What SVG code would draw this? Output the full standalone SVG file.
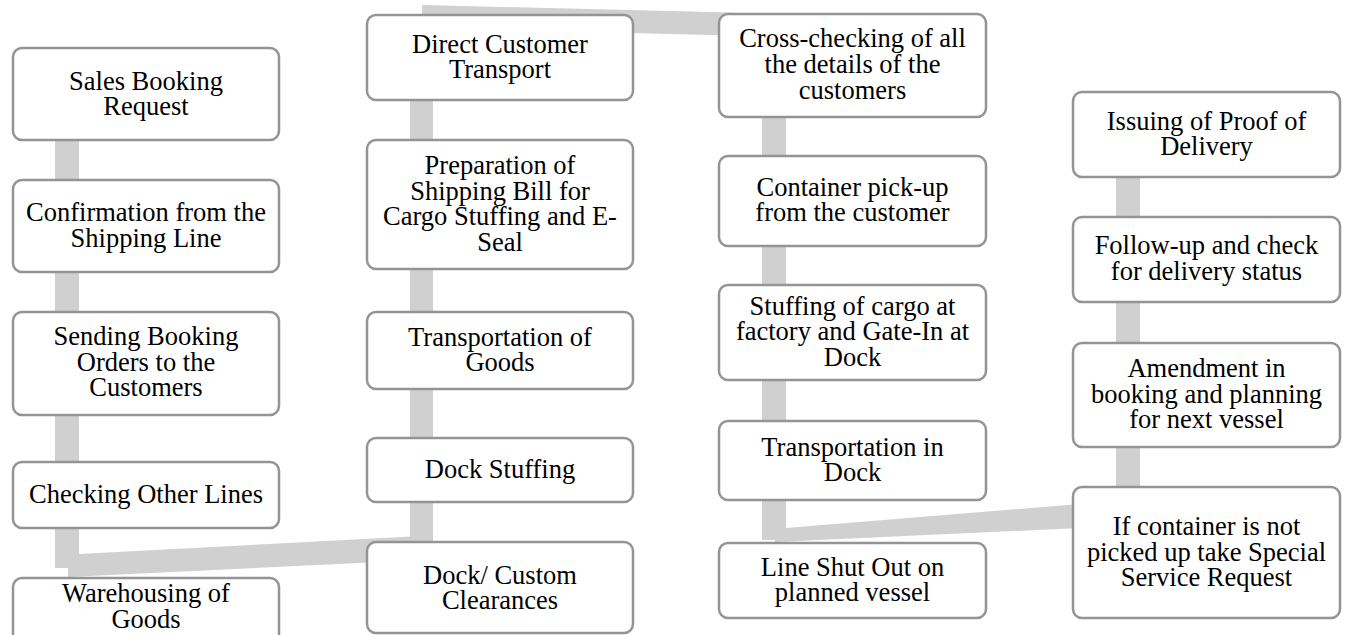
<svg xmlns="http://www.w3.org/2000/svg" width="1347" height="635" viewBox="0 0 1347 635">
<style>
.box{fill:#ffffff;stroke:#949494;stroke-width:2.5}
.conn{fill:#d0d0d0;stroke:none}
text{font-family:"Liberation Serif","Times New Roman",serif;font-size:26.5px;fill:#000000;text-anchor:middle}
</style>
<rect x="0" y="0" width="1347" height="635" fill="#ffffff"/>
<g id="connectors">
<rect class="conn" x="55" y="138" width="24" height="44"/>
<rect class="conn" x="55" y="270" width="24" height="44"/>
<rect class="conn" x="55" y="413" width="24" height="51"/>
<polygon class="conn" points="55,526 79,526 79,554 422,536 422,560 68,577 68,568 55,568"/>
<rect class="conn" x="410" y="98" width="23" height="44"/>
<rect class="conn" x="410" y="267" width="23" height="47"/>
<rect class="conn" x="410" y="387" width="23" height="53"/>
<rect class="conn" x="410" y="500" width="23" height="44"/>
<polygon class="conn" points="422,5 730,12.5 730,35.5 422,28"/>
<rect class="conn" x="762" y="115" width="24" height="43"/>
<rect class="conn" x="762" y="244" width="24" height="43"/>
<rect class="conn" x="762" y="378" width="24" height="45"/>
<polygon class="conn" points="762,498 786,498 786,528 1080,504 1080,528 775,542 775,540 762,540"/>
<rect class="conn" x="1116" y="175" width="24" height="44"/>
<rect class="conn" x="1116" y="300" width="24" height="45"/>
<rect class="conn" x="1116" y="445" width="24" height="44"/>
</g>
<g id="n1"><rect class="box" x="13" y="48" width="266" height="92" rx="9"/><text x="146" y="89.5">Sales Booking</text><text x="146" y="115">Request</text></g>
<g id="n2"><rect class="box" x="13" y="180" width="266" height="92" rx="9"/><text x="146" y="221">Confirmation from the</text><text x="146" y="246.5">Shipping Line</text></g>
<g id="n3"><rect class="box" x="13" y="312" width="266" height="103" rx="9"/><text x="146" y="345">Sending Booking</text><text x="146" y="370.5">Orders to the</text><text x="146" y="396">Customers</text></g>
<g id="n4"><rect class="box" x="13" y="462" width="266" height="66" rx="9"/><text x="146" y="503">Checking Other Lines</text></g>
<g id="n5"><rect class="box" x="13" y="578" width="266" height="70" rx="9"/><text x="146" y="602">Warehousing of</text><text x="146" y="627.5">Goods</text></g>
<g id="n6"><rect class="box" x="367" y="15" width="266" height="85" rx="9"/><text x="500" y="52.5">Direct Customer</text><text x="500" y="78">Transport</text></g>
<g id="n7"><rect class="box" x="367" y="140" width="266" height="129" rx="9"/><text x="500" y="174">Preparation of</text><text x="500" y="199.5">Shipping Bill for</text><text x="500" y="225">Cargo Stuffing and E-</text><text x="500" y="250.5">Seal</text></g>
<g id="n8"><rect class="box" x="367" y="312" width="266" height="77" rx="9"/><text x="500" y="345.5">Transportation of</text><text x="500" y="371">Goods</text></g>
<g id="n9"><rect class="box" x="367" y="438" width="266" height="64" rx="9"/><text x="500" y="477.5">Dock Stuffing</text></g>
<g id="n10"><rect class="box" x="367" y="542" width="266" height="91" rx="9"/><text x="500" y="583.5">Dock/ Custom</text><text x="500" y="609">Clearances</text></g>
<g id="n11"><rect class="box" x="719" y="14" width="267" height="103" rx="9"/><text x="852.5" y="46.5">Cross-checking of all</text><text x="852.5" y="72.5">the details of the</text><text x="852.5" y="98.5">customers</text></g>
<g id="n12"><rect class="box" x="719" y="156" width="267" height="90" rx="9"/><text x="852.5" y="195.5">Container pick-up</text><text x="852.5" y="221">from the customer</text></g>
<g id="n13"><rect class="box" x="719" y="285" width="267" height="95" rx="9"/><text x="852.5" y="314.5">Stuffing of cargo at</text><text x="852.5" y="340">factory and Gate-In at</text><text x="852.5" y="365.5">Dock</text></g>
<g id="n14"><rect class="box" x="719" y="421" width="267" height="79" rx="9"/><text x="852.5" y="455.5">Transportation in</text><text x="852.5" y="481">Dock</text></g>
<g id="n15"><rect class="box" x="719" y="543" width="267" height="75" rx="9"/><text x="852.5" y="575.5">Line Shut Out on</text><text x="852.5" y="601">planned vessel</text></g>
<g id="n16"><rect class="box" x="1073" y="92" width="267" height="85" rx="9"/><text x="1206.5" y="129.5">Issuing of Proof of</text><text x="1206.5" y="155">Delivery</text></g>
<g id="n17"><rect class="box" x="1073" y="217" width="267" height="85" rx="9"/><text x="1206.5" y="254">Follow-up and check</text><text x="1206.5" y="279.5">for delivery status</text></g>
<g id="n18"><rect class="box" x="1073" y="343" width="267" height="104" rx="9"/><text x="1206.5" y="377">Amendment in</text><text x="1206.5" y="402.5">booking and planning</text><text x="1206.5" y="428">for next vessel</text></g>
<g id="n19"><rect class="box" x="1073" y="487" width="267" height="131" rx="9"/><text x="1206.5" y="535">If container is not</text><text x="1206.5" y="560.5">picked up take Special</text><text x="1206.5" y="586">Service Request</text></g>
</svg>
